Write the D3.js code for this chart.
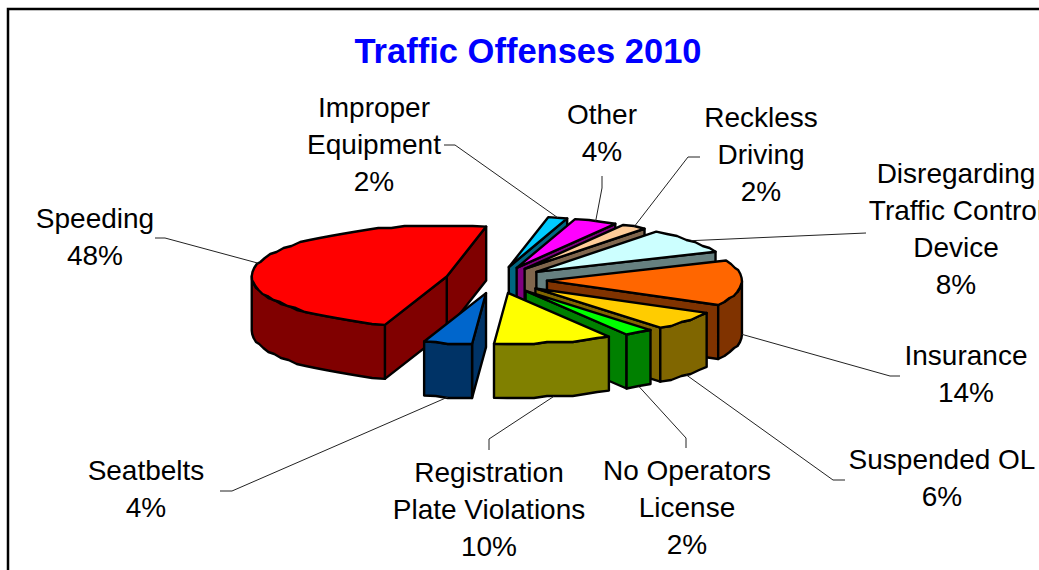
<!DOCTYPE html>
<html>
<head>
<meta charset="utf-8">
<script src="https://cdn.jsdelivr.net/npm/d3@7"></script>
<style>
    html, body { margin: 0; padding: 0; background: #fff; overflow: hidden; }
    text { font-family: "Liberation Sans", Arial, sans-serif; }
</style>
</head>
<body>
<script>
// Data, clockwise starting with the big slice. Labels show them rounded
const categories = ["Speeding", "Improper Equipment", "Other", "Reckless Driving",
    "Disregarding Traffic Control Device", "Insurance", "Suspended OL",
    "No Operators License", "Registration Plate Violations", "Seatbelts"];
const percents = [48.1, 1.6, 3.6, 2.1, 8, 14.4, 6, 2.4, 9.8, 4];

const topColors = ["#ff0000", "#00ccff", "#ff00ff", "#ffcc99", "#ccffff", "#ff6600", "#ffcc00", "#00ff00", "#ffff00", "#0066cc"];
const sideColors = ["#800000", "#006680", "#800080", "#80664d", "#668080", "#803300", "#806600", "#008000", "#808000", "#003366"];

// how each label breaks and where it sits: center x and first line y, leader points back to the slice, rim drop
const labelLines = [["Speeding"], ["Improper", "Equipment"], ["Other"], ["Reckless", "Driving"],
    ["Disregarding", "Traffic Control", "Device"], ["Insurance"], ["Suspended OL"],
    ["No Operators", "License"], ["Registration", "Plate Violations"], ["Seatbelts"]];
const labelPos = [[95, 219], [374, 108], [602, 115], [761, 118], [956, 174], [966, 356], [942, 460], [687, 471], [489, 473], [146, 471]];
const leaderElbows = [[[155, 238], [165, 238]], [[444, 145], [455, 145]], [[602, 176], [602, 188]], [[700, 157], [688, 157]],
    [[866, 233]], [[900, 376], [890, 376]], [[845, 480], [833, 480]], [[686, 448], [686, 438]], [[489, 450], [489, 439]], [[220, 491], [232, 491]]];
const rimDrop = [0, 0, 0, 0, 0, 0.95, 1, 1, 1, 1];

const width = 1039, height = 570;
const rx = 195, ry = 51, depth = 54, explode = 51;
const cx = 496, cy = 280;
const firstAngle = 198.5 * Math.PI / 180;

const svg = d3.select("body").append("svg")
    .attr("width", width)
    .attr("height", height)
    .style("display", "block");

// chart area border, runs off the photo on the right and at the bottom
svg.append("rect")
    .attr("x", 8).attr("y", 9)
    .attr("width", width + 20).attr("height", height + 20)
    .attr("fill", "none").attr("stroke", "#000").attr("stroke-width", 2.5);

svg.append("text")
    .attr("x", 528).attr("y", 63)
    .attr("text-anchor", "middle")
    .attr("font-size", 34.5).attr("font-weight", "bold")
    .attr("fill", "#0000ff")
    .text("Traffic Offenses 2010");

const pie = d3.pie().sort(null).startAngle(firstAngle).endAngle(firstAngle + 2 * Math.PI);
const slices = pie(percents).map((d, i) => {
    let a = d.startAngle, b = d.endAngle;
    if (a >= 2 * Math.PI) { a -= 2 * Math.PI; b -= 2 * Math.PI; }
    const mid = (a + b) / 2;
    return {
        i, a, b, mid,
        ax: cx + explode * Math.sin(mid),
        ay: cy - explode * Math.cos(mid) * ry / rx
    };
});

const rim = (s, t, drop = 0) => [s.ax + rx * Math.sin(t), s.ay - ry * Math.cos(t) + drop];
// the old chart's arcs are slightly rough polygons, so sample about every 4 degrees and snap y
const arcPts = (s, a, b, drop = 0) => {
    const n = Math.max(1, Math.round((b - a) / (4 * Math.PI / 180)));
    return d3.range(0, n + 1).map(k => {
        const p = rim(s, a + (b - a) * k / n, drop);
        return (k === 0 || k === n) ? p : [p[0], Math.round(p[1] / 2) * 2];
    });
};
const line = d3.line();

const pieG = svg.append("g")
    .attr("stroke", "#000")
    .attr("stroke-width", 2.4)
    .attr("stroke-linejoin", "round");

// back to front, so nearer slices cover the walls behind them
slices.slice().sort((p, q) => Math.cos(q.mid) - Math.cos(p.mid)).forEach(s => {
    const g = pieG.append("g");
    const side = sideColors[s.i];
    const wall = t => {
        const apex = [s.ax, s.ay], apexLow = [s.ax, s.ay + depth];
        g.append("path").attr("fill", side)
            .attr("d", line([apex, rim(s, t), rim(s, t, depth), apexLow]) + "Z");
    };
    // flat cut faces only show when they turn toward the viewer
    if (Math.sin(s.b) > 0) wall(s.b);
    if (Math.sin(s.a) < 0) wall(s.a);

    // curved outer wall, front half only
    const from = Math.max(s.a, Math.PI / 2), to = Math.min(s.b, 1.5 * Math.PI);
    if (to > from) {
        g.append("path").attr("fill", side)
            .attr("d", line(arcPts(s, from, to).concat(arcPts(s, from, to, depth).reverse())) + "Z");
    }

    g.append("path").attr("fill", topColors[s.i])
        .attr("d", line([[s.ax, s.ay]].concat(arcPts(s, s.a, s.b))) + "Z");
});

// leader lines
svg.append("g")
    .selectAll("path")
    .data(slices)
    .join("path")
    .attr("fill", "none")
    .attr("stroke", "#222")
    .attr("stroke-width", 1)
    .attr("d", s => line(leaderElbows[s.i].concat([rim(s, s.mid, depth * rimDrop[s.i])])));

// labels
const labels = svg.append("g")
    .selectAll("text")
    .data(slices)
    .join("text")
    .attr("text-anchor", "middle")
    .attr("font-size", 28)
    .attr("fill", "#000");

labels.each(function (s) {
    const rows = labelLines[s.i].concat([Math.round(percents[s.i]) + "%"]);
    d3.select(this).selectAll("tspan")
        .data(rows)
        .join("tspan")
        .attr("x", labelPos[s.i][0])
        .attr("y", (d, k) => labelPos[s.i][1] + 9 + k * 37)
        .text(d => d);
});
</script>
</body>
</html>
